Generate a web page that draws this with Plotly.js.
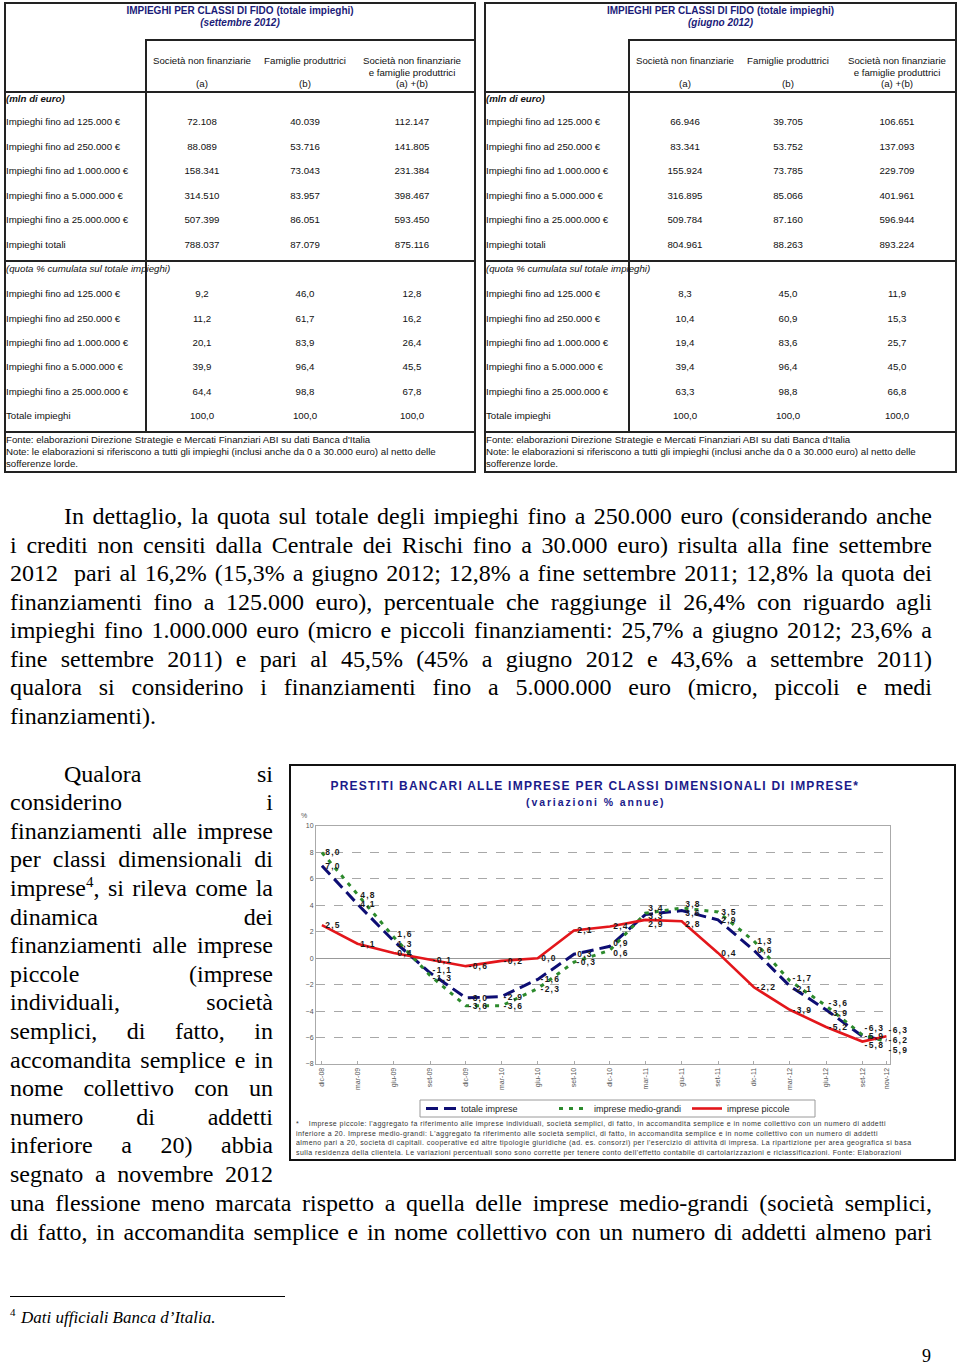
<!DOCTYPE html>
<html><head><meta charset="utf-8">
<script src="https://cdn.plot.ly/plotly-3.0.1.min.js"></script>
<style>
body{margin:0;background:#fff;}
#page{position:relative;width:960px;height:1365px;overflow:hidden;background:#fff;font-family:"Liberation Sans",Arial,sans-serif;color:#111;}
.box{position:absolute;border:2px solid #222;box-sizing:border-box;}
.hl{position:absolute;height:2px;background:#222;}
.vl{position:absolute;width:2px;background:#222;}
.t{position:absolute;white-space:nowrap;font-size:9.7px;line-height:12px;}
.jl{position:absolute;font-family:"Liberation Serif","Times New Roman",serif;font-size:24px;line-height:28px;height:28px;text-align:justify;text-align-last:justify;color:#000;}
.jl.last{text-align-last:left;}
.jl sup{font-size:15px;line-height:0;vertical-align:9px;}
#chart{position:absolute;left:291px;top:766px;width:663px;height:393px;}
#chartbox{position:absolute;left:289px;top:764px;width:667px;height:397px;border:2px solid #111;box-sizing:border-box;}
#chartnote{position:absolute;left:296px;top:1119px;width:656px;height:39px;overflow:hidden;font-family:"Liberation Sans",Arial,sans-serif;font-size:7px;line-height:9.5px;letter-spacing:0.45px;white-space:nowrap;color:#333;}
#chart .annotation-text{letter-spacing:1.2px;}
</style></head>
<body><div id="page"><div id="chartbox"></div><div id="chart"></div></div>
<script>
// ---------------- DATA: tables ----------------
const rowLabelsAbs = ["Impieghi fino ad 125.000 €","Impieghi fino ad 250.000 €","Impieghi fino ad 1.000.000 €","Impieghi fino a 5.000.000 €","Impieghi fino a 25.000.000 €","Impieghi totali"];
const rowLabelsPct = ["Impieghi fino ad 125.000 €","Impieghi fino ad 250.000 €","Impieghi fino ad 1.000.000 €","Impieghi fino a 5.000.000 €","Impieghi fino a 25.000.000 €","Totale impieghi"];
const colHeadLine1 = ["Società non finanziarie","Famiglie produttrici","Società non finanziarie"];
const colHeadLine2 = ["","","e famiglie produttrici"];
const colHeadLine3 = ["(a)","(b)","(a) +(b)"];
const tableTitle = "IMPIEGHI PER CLASSI DI FIDO (totale impieghi)";
const tableSub = ["(settembre 2012)","(giugno 2012)"];
const unitAbs = "(mln di euro)";
const unitPct = "(quota % cumulata sul totale impieghi)";
const tableSource = ["Fonte: elaborazioni Direzione Strategie e Mercati Finanziari ABI su dati Banca d'Italia","Note: le elaborazioni si riferiscono a tutti gli impieghi (inclusi anche da 0 a 30.000 euro) al netto delle","sofferenze lorde."];

const set12_snf = [72108,88089,158341,314510,507399,788037];
const set12_fp  = [40039,53716,73043,83957,86051,87079];
const set12_tot = [112147,141805,231384,398467,593450,875116];
const set12_q_snf = [9.2,11.2,20.1,39.9,64.4,100.0];
const set12_q_fp  = [46.0,61.7,83.9,96.4,98.8,100.0];
const set12_q_tot = [12.8,16.2,26.4,45.5,67.8,100.0];

const giu12_snf = [66946,83341,155924,316895,509784,804961];
const giu12_fp  = [39705,53752,73785,85066,87160,88263];
const giu12_tot = [106651,137093,229709,401961,596944,893224];
const giu12_q_snf = [8.3,10.4,19.4,39.4,63.3,100.0];
const giu12_q_fp  = [45.0,60.9,83.6,96.4,98.8,100.0];
const giu12_q_tot = [11.9,15.3,25.7,45.0,66.8,100.0];

// ---------------- DATA: chart ----------------
const dates = ["2008-12-01","2009-03-01","2009-06-01","2009-09-01","2009-12-01","2010-03-01","2010-06-01","2010-09-01","2010-12-01","2011-03-01","2011-06-01","2011-09-01","2011-12-01","2012-03-01","2012-06-01","2012-09-01","2012-11-01"];
const tickLabels = ["dic-08","mar-09","giu-09","set-09","dic-09","mar-10","giu-10","set-10","dic-10","mar-11","giu-11","set-11","dic-11","mar-12","giu-12","set-12","nov-12"];
const totaleImprese = [7.0,4.1,1.3,-1.1,-3.0,-2.9,-1.6,0.3,0.9,3.3,3.6,2.9,0.6,-2.1,-3.9,-5.9,-6.2];
const impreseMedioGrandi = [8.0,4.8,1.6,-1.3,-3.6,-3.6,-2.3,-0.3,0.6,3.4,3.8,3.5,1.3,-1.7,-3.6,-5.8,-6.3];
const impresePiccole = [2.5,1.1,0.4,-0.1,-0.6,-0.2,0.0,2.1,2.4,2.9,2.8,0.4,-2.2,-3.9,-5.2,-6.3,-5.9];
const seriesNames = ["totale imprese","imprese medio-grandi","imprese piccole"];

// label vertical nudges (px, styling only) to keep overlapping labels legible
const nudgeTot = [0,0,-3,3,0,0,0,0,3,-1,-2,0,0,-3,-3,0,0];
const nudgeMG  = [0,0,3,-3,0,0,0,0,-3,5,4,0,0,3,3,-10,12];
const nudgePic = [0,0,0,0,0,0,0,0,0,-4,-3,0,0,0,0,14,-14];

// ---------------- helpers ----------------
const page = document.getElementById('page');
function add(cls, css, html){ const d=document.createElement('div'); d.className=cls; Object.assign(d.style, css); if(html!=null) d.innerHTML=html; page.appendChild(d); return d; }
function txt(x,y,s,align,extra){ return add('t',Object.assign({left:x+'px',top:y+'px',transform:align==='c'?'translate(-50%,-50%)':'translateY(-50%)'},extra||{}),s); }
const fmtInt = n => String(n).replace(/\B(?=(\d{3})+(?!\d))/g,'.');
const fmtDec = v => v.toFixed(1).replace('.',',');

function buildTable(o){
  const L=o.left, R=o.right, V=o.vx, W=R-L;
  add('box',{left:L+'px',top:'2px',width:W+'px',height:'471px'});
  add('hl',{left:V+'px',top:'39px',width:(R-V)+'px'});
  add('vl',{left:(V-1)+'px',top:'39px',height:(433-39)+'px'});
  add('hl',{left:L+'px',top:'91px',width:W+'px'});
  add('hl',{left:L+'px',top:'260px',width:W+'px'});
  add('hl',{left:L+'px',top:'431px',width:W+'px'});
  const cx=(L+R)/2;
  txt(cx,11,tableTitle,'c',{fontWeight:'bold',color:'#1b1b78',fontSize:'10px'});
  txt(cx,23,o.sub,'c',{fontWeight:'bold',fontStyle:'italic',color:'#1b1b78',fontSize:'10px'});
  o.cols.forEach((c,i)=>{
    txt(c,61,colHeadLine1[i],'c');
    if(colHeadLine2[i]) txt(c,73,colHeadLine2[i],'c');
    txt(c,84,colHeadLine3[i],'c');
  });
  txt(L+2,99,unitAbs,'l',{fontWeight:'bold',fontStyle:'italic'});
  txt(L+2,269,unitPct,'l',{fontStyle:'italic'});
  const rowsA=[122,146.5,171,195.5,220,244.5], rowsP=[294,318.5,342.5,367,391.5,416];
  rowLabelsAbs.forEach((lab,i)=>{
    txt(L+2,rowsA[i],lab,'l');
    o.abs.forEach((arr,j)=>txt(o.cols[j],rowsA[i],fmtInt(arr[i]),'c'));
  });
  rowLabelsPct.forEach((lab,i)=>{
    txt(L+2,rowsP[i],lab,'l');
    o.pct.forEach((arr,j)=>txt(o.cols[j],rowsP[i],fmtDec(arr[i]),'c'));
  });
  tableSource.forEach((s,i)=>txt(L+2,440+i*12,s,'l'));
}
buildTable({left:4,right:476,vx:146,cols:[202,305,412],sub:tableSub[0],abs:[set12_snf,set12_fp,set12_tot],pct:[set12_q_snf,set12_q_fp,set12_q_tot]});
buildTable({left:484,right:957,vx:629,cols:[685,788,897],sub:tableSub[1],abs:[giu12_snf,giu12_fp,giu12_tot],pct:[giu12_q_snf,giu12_q_fp,giu12_q_tot]});

// ---------------- body text ----------------
function jline(x,cy,w,html,last){ add('jl'+(last?' last':''),{left:x+'px',top:(cy-14)+'px',width:w+'px'},html); }
const para1 = [
 "In dettaglio, la quota sul totale degli impieghi fino a 250.000 euro (considerando anche",
 "i crediti non censiti dalla Centrale dei Rischi fino a 30.000 euro) risulta alla fine settembre",
 "2012&nbsp; pari al 16,2% (15,3% a giugno 2012; 12,8% a fine settembre 2011; 12,8% la quota dei",
 "finanziamenti fino a 125.000 euro), percentuale che raggiunge il 26,4% con riguardo agli",
 "impieghi fino 1.000.000 euro (micro e piccoli finanziamenti: 25,7% a giugno 2012; 23,6% a",
 "fine settembre 2011) e pari al 45,5% (45% a giugno 2012 e 43,6% a settembre 2011)",
 "qualora si considerino i finanziamenti fino a 5.000.000 euro (micro, piccoli e medi",
 "finanziamenti)."
];
para1.forEach((s,i)=>{ const x=i===0?64:10; jline(x,516+i*28.57,932-x,s,i===para1.length-1); });
const para2 = [
 "Qualora si","considerino i","finanziamenti alle imprese","per classi dimensionali di",
 "imprese<sup>4</sup>, si rileva come la","dinamica dei","finanziamenti alle imprese","piccole (imprese",
 "individuali, società","semplici, di fatto, in","accomandita semplice e in","nome collettivo con un",
 "numero di addetti","inferiore a 20) abbia","segnato a novembre 2012"
];
para2.forEach((s,i)=>{ const x=i===0?64:10; jline(x,773.5+i*28.6,273-x,s,false); });
jline(10,1203,922,"una flessione meno marcata rispetto a quella delle imprese medio-grandi (società semplici,",false);
jline(10,1232,922,"di fatto, in accomandita semplice e in nome collettivo con un numero di addetti almeno pari",false);
add('hl',{left:'10px',top:'1296px',width:'275px',height:'1px',background:'#000'});
add('t',{left:'10px',top:'1306px',fontFamily:'"Liberation Serif",serif',fontSize:'11px',color:'#000'},'4');
add('t',{left:'21px',top:'1308px',fontFamily:'"Liberation Serif",serif',fontSize:'17px',lineHeight:'20px',fontStyle:'italic',color:'#000'},"Dati ufficiali Banca d’Italia.");
add('t',{left:'922px',top:'1346px',fontFamily:'"Liberation Serif",serif',fontSize:'18px',lineHeight:'20px',color:'#000'},'9');

// chart footnote
const note = document.createElement('div'); note.id='chartnote';
note.innerHTML = "*&nbsp;&nbsp;&nbsp; Imprese piccole: l'aggregato fa riferimento alle imprese individuali, società semplici, di fatto, in accomandita semplice e in nome collettivo con un numero di addetti<br>"+
"inferiore a 20. Imprese medio-grandi: L'aggregato fa riferimento alle società semplici, di fatto, in accomandita semplice e in nome collettivo con un numero di addetti<br>"+
"almeno pari a 20, società di capitali. cooperative ed altre tipologie giuridiche (ad. es. consorzi) per l'esercizio di attività di impresa. La ripartizione per area geografica si basa<br>"+
"sulla residenza della clientela. Le variazioni percentuali sono sono corrette per tenere conto dell'effetto contabile di cartolarizzazioni e riclassificazioni. Fonte: Elaborazioni";
page.appendChild(note);

// ---------------- chart ----------------
const colors = ["#0d0d73","#2c8a2c","#e3161b"];
const dashes = ["12px,6px","4px,6px","solid"];
const widths = [3,3,2.6];
const seriesData = [totaleImprese, impreseMedioGrandi, impresePiccole];
const nudges = [nudgeTot, nudgeMG, nudgePic];
const traces = seriesData.map((y,i)=>({type:'scatter',mode:'lines',x:dates,y:y,name:seriesNames[i],line:{color:colors[i],width:widths[i],dash:dashes[i]},hoverinfo:'skip'}));

const pw=574, ph=238, ml=25, mt=60;
const px = v => (v-291-ml)/pw;
const py = v => 1-((v-766)-mt)/ph;

const labelAnns = [];
seriesData.forEach((y,i)=>{
  y.forEach((v,k)=>{
    labelAnns.push({x:dates[k],y:v,xref:'x',yref:'y',text:'<b>'+fmtDec(v)+'</b>',showarrow:false,xanchor:'left',yanchor:'middle',
      xshift:4,yshift:nudges[i][k],borderpad:0,font:{family:'Liberation Sans, Arial, sans-serif',size:8.5,color:'#1a1a1a'}});
  });
});

const layout = {
  width:663,height:393,
  margin:{l:ml,r:64,t:mt,b:95,pad:0},
  paper_bgcolor:'rgba(0,0,0,0)',plot_bgcolor:'#fff',
  font:{family:'Liberation Sans, Arial, sans-serif',size:7,color:'#555'},
  showlegend:true,
  legend:{orientation:'h',x:px(421),xanchor:'left',y:py(1108.5),yanchor:'middle',borderwidth:0,bgcolor:'rgba(0,0,0,0)',
    font:{size:9,color:'#222'},entrywidth:88,entrywidthmode:'pixels',itemwidth:30,traceorder:'normal'},
  shapes:[{type:'rect',xref:'paper',yref:'paper',x0:px(420),x1:px(815),y0:py(1100),y1:py(1117),line:{color:'#9a9a9a',width:1},fillcolor:'rgba(0,0,0,0)',layer:'below'}],
  xaxis:{type:'date',range:['2008-11-16','2012-11-10'],tickmode:'array',tickvals:dates,ticktext:tickLabels,tickangle:-90,
    showgrid:false,showline:true,mirror:true,linecolor:'#aaa',linewidth:1,ticks:'inside',ticklen:3,tickcolor:'#aaa',zeroline:false,
    tickfont:{size:7,color:'#555'},fixedrange:true,automargin:false},
  yaxis:{range:[-8,10],tick0:0,dtick:2,showgrid:true,gridcolor:'#a8a8a8',griddash:'dash',gridwidth:1,zeroline:true,zerolinecolor:'#999',zerolinewidth:1,
    showline:true,mirror:true,linecolor:'#aaa',linewidth:1,ticks:'',tickfont:{size:7,color:'#555'},fixedrange:true,automargin:false},
  annotations:[
    {text:'<b>PRESTITI BANCARI ALLE IMPRESE PER CLASSI DIMENSIONALI DI IMPRESE*</b>',xref:'paper',yref:'paper',x:px(595),y:py(786),xanchor:'center',yanchor:'middle',showarrow:false,font:{size:12,color:'#1b1b8a'}},
    {text:'<b>(variazioni % annue)</b>',xref:'paper',yref:'paper',x:px(596),y:py(802),xanchor:'center',yanchor:'middle',showarrow:false,font:{size:10.5,color:'#1b1b8a'}},
    {text:'%',xref:'paper',yref:'paper',x:px(304),y:py(816),xanchor:'center',yanchor:'middle',showarrow:false,font:{size:7,color:'#555'}}
  ].concat(labelAnns)
};
Plotly.newPlot('chart',traces,layout,{displayModeBar:false,staticPlot:true}).then(()=>{
  document.querySelectorAll('#chart .annotation-text').forEach(t=>{
    const s=t.textContent;
    if(s.indexOf('PRESTITI')===0) t.style.letterSpacing='1.25px';
    else if(s.indexOf('variazioni')>=0) t.style.letterSpacing='1.9px';
    else if(s==='%') t.style.letterSpacing='0px';
  });
});
</script>
</body></html>
